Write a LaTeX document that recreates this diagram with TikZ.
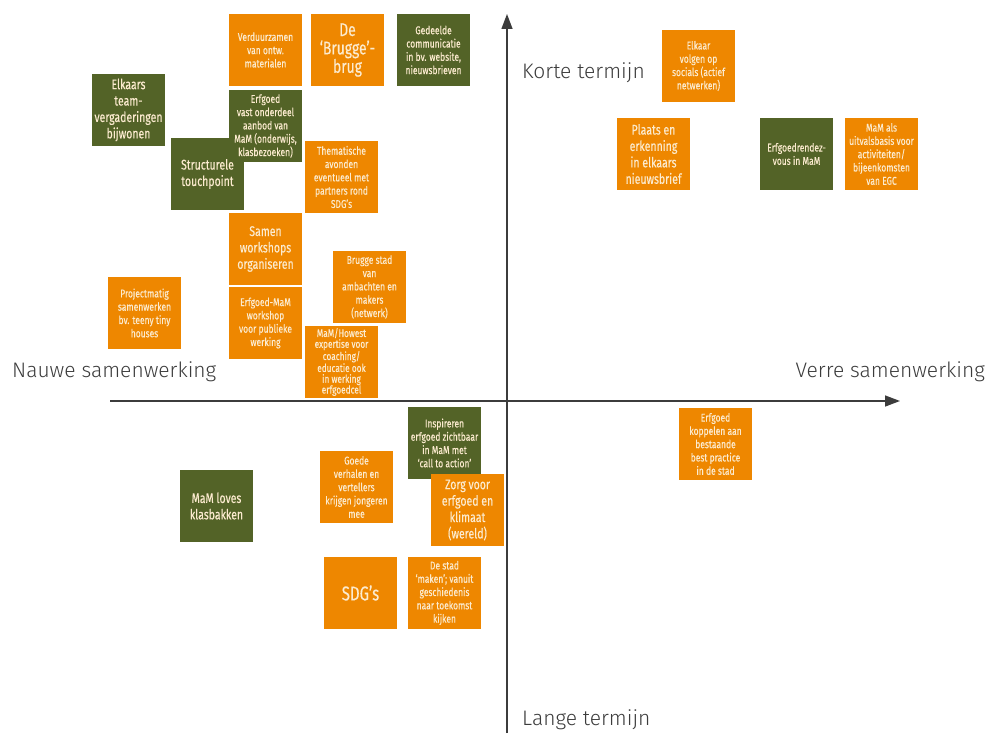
\documentclass[tikz,border=0pt]{standalone}
\usepackage{fontspec}
\usepackage{tikz}
\usetikzlibrary{arrows.meta}
\newfontfamily\boxfont[FakeStretch=0.75, FakeBold=0.3]{Fira Sans}
\newfontfamily\axfont{Fira Sans Light}
\definecolor{mamorange}{HTML}{EE8700}
\definecolor{mamgreen}{HTML}{536327}
\definecolor{cream}{HTML}{FCEBCF}
\definecolor{axgray}{HTML}{3C3C3C}
\tikzset{
  card/.style  = {minimum width=73pt, minimum height=72pt, inner sep=1pt,
                  align=center, text=cream,
                  font=\boxfont\fontsize{11.3}{13.3}\selectfont},
  org/.style   = {card, fill=mamorange},
  grn/.style   = {card, fill=mamgreen},
  mid/.style   = {font=\boxfont\fontsize{14}{16.4}\selectfont},
  big/.style   = {font=\boxfont\fontsize{18.5}{18.4}\selectfont},
  axlbl/.style = {font=\axfont\fontsize{21}{24}\selectfont, text=axgray,
                  inner sep=0pt},
  ax/.style    = {-{Triangle[length=15pt,width=11pt]}, line width=1.4pt,
                  axgray},
}

\begin{document}
\begin{tikzpicture}[x=1pt, y=-1pt]
  \useasboundingbox (0,0) rectangle (987,733);
  % axes
  \coordinate (xl) at (110,401); \coordinate (xr) at (900,401);
  \coordinate (yb) at (507,733); \coordinate (yt) at (507,14);
  \draw[ax] (xl) -- (xr);
  \draw[ax] (yb) -- (yt);
  \node[axlbl, anchor=west] (kort)  at (522,73)  {Korte termijn};
  \node[axlbl, anchor=west] (lang)  at (522,720) {Lange termijn};
  \node[axlbl, anchor=west] (nauw)  at (12,372)  {Nauwe samenwerking};
  \node[axlbl, anchor=east] (verre) at (985,372) {Verre samenwerking};
  % top left cluster
  \node[org] (verd)  at (265.5,50)  {Verduurzamen\\van ontw.\\materialen};
  \node[org, big] (brug) at (347.5,50) {De\\‘Brugge’-\\brug};
  \node[grn] (deel)  at (433.5,50)  {Gedeelde\\communicatie\\in bv. website,\\nieuwsbrieven};
  \node[grn, mid] (team) at (128.5,110) {Elkaars\\team-\\vergaderingen\\bijwonen};
  \node[grn, mid] (touch) at (207.5,174) {Structurele\\touchpoint};
  \node[grn] (vast)  at (265.5,126) {Erfgoed\\vast onderdeel\\aanbod van\\MaM (onderwijs,\\klasbezoeken)};
  \node[org] (them)  at (341.5,177) {Thematische\\avonden\\eventueel met\\partners rond\\SDG’s};
  \node[org, mid] (samen) at (265.5,249) {Samen\\workshops\\organiseren};
  \node[org] (wshop) at (265.5,323) {Erfgoed-MaM\\workshop\\voor publieke\\werking};
  \node[org] (proj)  at (144.5,313) {Projectmatig\\samenwerken\\bv. teeny tiny\\houses};
  \node[org] (stad)  at (369.5,287) {Brugge stad\\van\\ambachten en\\makers\\(netwerk)};
  \node[org, font=\boxfont\fontsize{11}{10.8}\selectfont] (howest) at (341.5,362)
    {MaM/Howest\\expertise voor\\coaching/\\educatie ook\\in werking\\erfgoedcel};
  % top right
  \node[org] (socials) at (698.5,66) {Elkaar\\volgen op\\socials (actief\\netwerken)};
  \node[org, mid] (plaats) at (653.5,154) {Plaats en\\erkenning\\in elkaars\\nieuwsbrief};
  \node[grn] (rendez)  at (796.5,154) {Erfgoedrendez-\\vous in MaM};
  \node[org] (basis)   at (881.5,154) {MaM als\\uitvalsbasis voor\\activiteiten/\\bijeenkomsten\\van EGC};
  % bottom
  \node[org] (koppel)  at (715.5,444) {Erfgoed\\koppelen aan\\bestaande\\best practice\\in de stad};
  \node[grn] (insp)    at (444.5,443) {Inspireren\\erfgoed zichtbaar\\in MaM met\\‘call to action’};
  \node[org] (goede)   at (356.5,487) {Goede\\verhalen en\\vertellers\\krijgen jongeren\\mee};
  \node[org, mid] (zorg) at (467.5,510) {Zorg voor\\erfgoed en\\klimaat\\(wereld)};
  \node[grn, mid] (loves) at (216.5,506) {MaM loves\\klasbakken};
  \node[org, font=\boxfont\fontsize{20}{24}\selectfont] (sdg) at (360.5,593) {SDG’s};
  \node[org] (maken)   at (444.5,593) {De stad\\‘maken’; vanuit\\geschiedenis\\naar toekomst\\kijken};
\end{tikzpicture}
\end{document}
